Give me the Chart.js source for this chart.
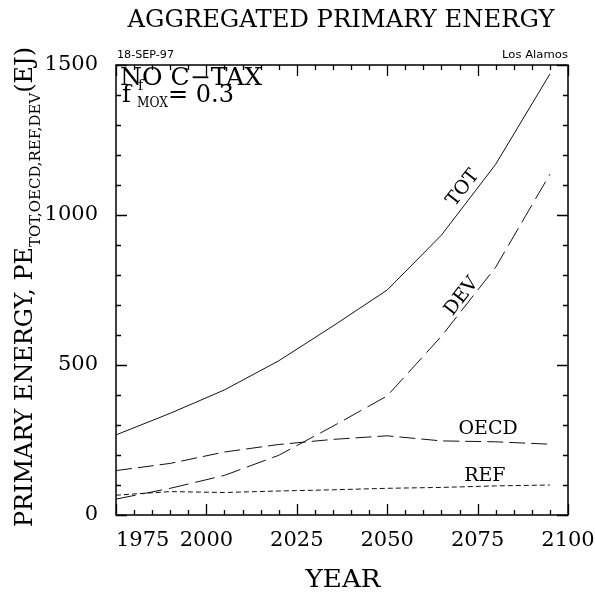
<!DOCTYPE html>
<html>
<head>
<meta charset="utf-8">
<script src="https://cdn.jsdelivr.net/npm/chart.js@4/dist/chart.umd.min.js"></script>
<style>
  html, body { margin: 0; padding: 0; background: #fff; }
  #wrap { width: 595px; height: 596px; }
</style>
</head>
<body>
<div id="wrap"><canvas id="c"></canvas></div>
<script>
// primary energy by region, EJ
const years = [1975, 1990, 2005, 2020, 2035, 2050, 2065, 2080, 2095];
const tot  = [267, 339, 417, 514, 630, 750, 933, 1169, 1470];
const dev  = [53, 89, 132, 199, 296, 397, 596, 826, 1136];
const oecd = [148, 172, 210, 235, 252, 264, 247, 244, 236];
const ref  = [66, 78, 75, 80, 84, 89, 92, 97, 100];

const xTicks = [1975, 2000, 2025, 2050, 2075, 2100];
const yTicks = [0, 500, 1000, 1500];

const SERIF = '"DejaVu Serif", serif';
const SANS = '"DejaVu Sans", sans-serif';

const pts = vals => years.map((yr, i) => ({ x: yr, y: vals[i] }));

function series(label, vals, dash) {
  return {
    label, data: pts(vals), borderColor: '#111', borderWidth: 1,
    borderDash: dash, pointRadius: 0, tension: 0, fill: false
  };
}

// draw text squeezed/stretched to a given width
function fitText(ctx, s, x, y, font, w, align) {
  ctx.font = font;
  const m = ctx.measureText(s).width;
  const k = w ? w / m : 1;
  let x0 = x;
  if (align === 'center') x0 = x - m * k / 2;
  else if (align === 'right') x0 = x - m * k;
  ctx.save();
  ctx.translate(x0, y);
  ctx.scale(k, 1);
  ctx.textAlign = 'left';
  ctx.fillText(s, 0, 0);
  ctx.restore();
}

const frame = {
  id: 'frame',
  afterDraw(chart) {
    const { ctx, chartArea: a, scales: { x, y } } = chart;
    ctx.save();
    ctx.strokeStyle = '#000';
    ctx.fillStyle = '#000';

    // box
    ctx.lineWidth = 1.5;
    ctx.strokeRect(a.left, a.top, a.right - a.left, a.bottom - a.top);

    // inward ticks on all four sides
    ctx.lineWidth = 1.3;
    ctx.beginPath();
    for (let v = x.min; v <= x.max; v += 5) {
      const px = Math.round(x.getPixelForValue(v)) + 0.5;
      const len = v % 25 === 0 ? 11 : 5;
      ctx.moveTo(px, a.bottom); ctx.lineTo(px, a.bottom - len);
      ctx.moveTo(px, a.top); ctx.lineTo(px, a.top + len);
    }
    for (let v = y.min; v <= y.max; v += 100) {
      const py = Math.round(y.getPixelForValue(v)) + 0.5;
      const len = v % 500 === 0 ? 11 : 5;
      ctx.moveTo(a.left, py); ctx.lineTo(a.left + len, py);
      ctx.moveTo(a.right, py); ctx.lineTo(a.right - len, py);
    }
    ctx.stroke();

    // tick labels
    ctx.textBaseline = 'middle';
    ctx.font = '21px ' + SERIF;
    xTicks.forEach((v, i) => {
      ctx.textAlign = i === 0 ? 'left' : 'center';
      ctx.fillText(String(v), x.getPixelForValue(v), 541);
    });
    ctx.textAlign = 'right';
    yTicks.forEach(v => ctx.fillText(String(v), 98, y.getPixelForValue(v)));

    // title and x title
    ctx.textBaseline = 'alphabetic';
    fitText(ctx, 'AGGREGATED PRIMARY ENERGY', 341, 27, '24px ' + SERIF, 427, 'center');
    fitText(ctx, 'YEAR', 343, 587, '25px ' + SERIF, 75, 'center');

    // y title, rotated, with subscript
    ctx.save();
    ctx.translate(32, 287);
    ctx.rotate(-Math.PI / 2);
    const big = '24px ' + SERIF, small = '15px ' + SERIF;
    const parts = [
      ['PRIMARY ENERGY, PE', big, 0],
      ['TOT,OECD,REF,DEV', small, 8],
      ['(EJ)', big, 0]
    ];
    let total = 0;
    parts.forEach(p => { ctx.font = p[1]; p.push(ctx.measureText(p[0]).width); total += p[3]; });
    const k = 480 / total;
    ctx.scale(k, 1);
    let cx = -total / 2;
    ctx.textAlign = 'left';
    parts.forEach(p => { ctx.font = p[1]; ctx.fillText(p[0], cx, p[2]); cx += p[3]; });
    ctx.restore();

    // stamp texts
    ctx.textAlign = 'left';
    fitText(ctx, '18-SEP-97', a.left + 1, 58, '11px ' + SANS, 57, 'left');
    fitText(ctx, 'Los Alamos', a.right, 58, '11px ' + SANS, 66, 'right');

    // scenario note
    fitText(ctx, 'NO C\u2212TAX', 120, 85, '24px ' + SERIF, 142, 'left');
    ctx.font = '24px ' + SERIF;
    ctx.fillText('f', 122, 102);
    ctx.font = '14px ' + SERIF;
    ctx.fillText('f', 138, 90);
    fitText(ctx, 'MOX', 137, 107, '14px ' + SERIF, 31, 'left');
    fitText(ctx, '= 0.3', 168, 102, '24px ' + SERIF, 66, 'left');

    // curve labels
    const lab = (s, yr, val, ang, size) => {
      ctx.save();
      ctx.translate(x.getPixelForValue(yr), y.getPixelForValue(val));
      ctx.rotate(ang * Math.PI / 180);
      ctx.font = size + 'px ' + SERIF;
      ctx.textAlign = 'center';
      ctx.textBaseline = 'middle';
      ctx.fillText(s, 0, 0);
      ctx.restore();
    };
    lab('TOT', 2071, 1090, -52, 19);
    lab('DEV', 2070.6, 728, -52, 19);
    lab('OECD', 2077.9, 287, 0, 19);
    lab('REF', 2077, 130, 0, 19);

    ctx.restore();
  }
};

new Chart(document.getElementById('c'), {
  type: 'line',
  data: {
    datasets: [
      series('TOT', tot, []),
      series('DEV', dev, [20, 7]),
      series('OECD', oecd, [16, 6]),
      series('REF', ref, [5, 3])
    ]
  },
  options: {
    responsive: true,
    maintainAspectRatio: false,
    animation: false,
    devicePixelRatio: 1,
    layout: { padding: { left: 116, right: 27, top: 65, bottom: 81 } },
    plugins: { legend: { display: false }, tooltip: { enabled: false } },
    scales: {
      x: { type: 'linear', min: 1975, max: 2100, display: false },
      y: { type: 'linear', min: 0, max: 1500, display: false }
    }
  },
  plugins: [frame]
});
</script>
</body>
</html>
